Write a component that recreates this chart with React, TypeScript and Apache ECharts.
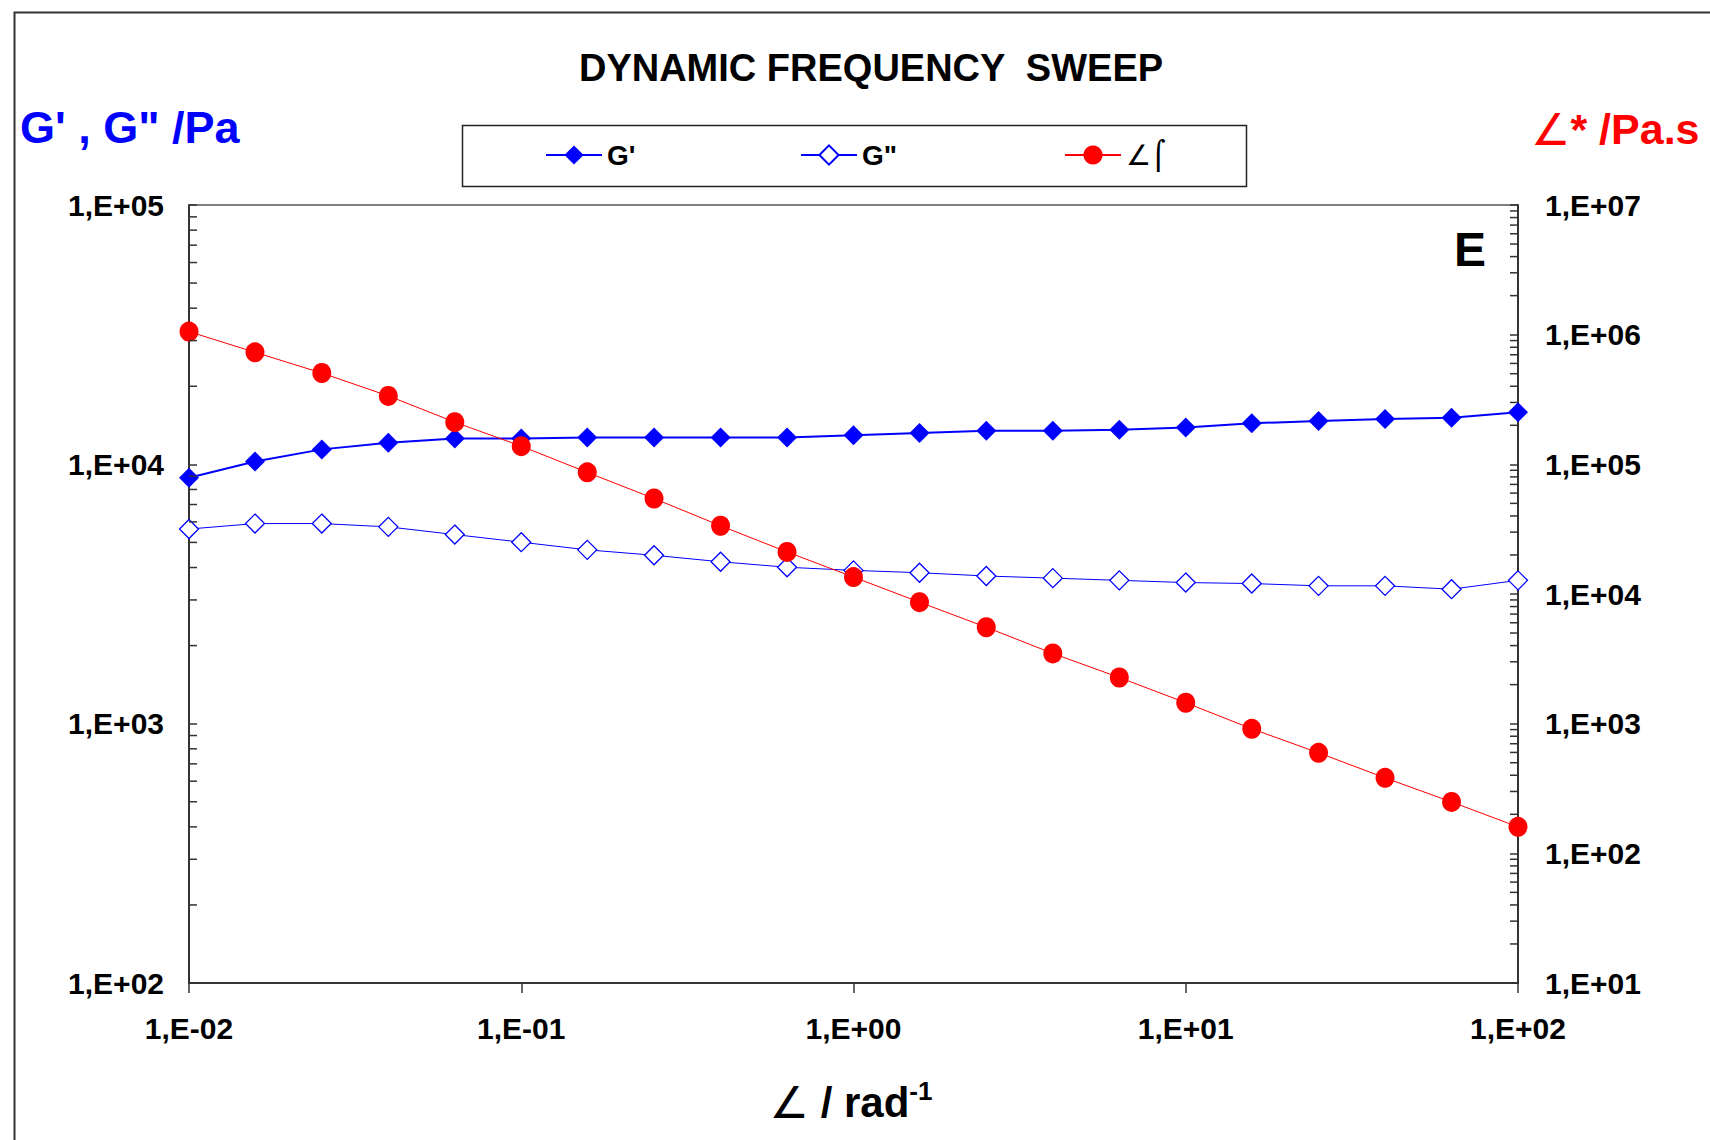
import React, { useEffect, useRef } from 'react';
import * as echarts from 'echarts';

const FONT = '"Liberation Sans", Arial, sans-serif';
const SYM = '"DejaVu Sans", sans-serif';

// Angular frequency (rad/s)
const xValues = [0.01, 0.0158, 0.0251, 0.0398, 0.0631, 0.1, 0.158, 0.251, 0.398, 0.631, 1, 1.58, 2.51, 3.98, 6.31, 10, 15.8, 25.1, 39.8, 63.1, 100];
// G' (Pa)
const gPrime = [8870, 10260, 11420, 12100, 12580, 12580, 12700, 12700, 12700, 12700, 12950, 13200, 13460, 13460, 13590, 13860, 14400, 14690, 14970, 15110, 15870];
// G'' (Pa)
const gDouble = [5630, 5910, 5910, 5740, 5360, 5010, 4680, 4460, 4210, 4010, 3900, 3820, 3710, 3640, 3570, 3500, 3470, 3400, 3400, 3300, 3570];
// eta* (Pa.s)
const etaStar = [1056000, 731000, 506000, 337000, 211500, 138100, 86700, 54500, 33600, 21100, 13500, 8650, 5540, 3480, 2270, 1450, 913, 596, 382, 249, 160];

const xTickValues = [0.01, 0.1, 1, 10, 100];
const xTickLabels = ['1,E-02', '1,E-01', '1,E+00', '1,E+01', '1,E+02'];
const leftTickValues = [100, 1000, 10000, 100000];
const leftTickLabels = ['1,E+02', '1,E+03', '1,E+04', '1,E+05'];
const rightTickValues = [10, 100, 1000, 10000, 100000, 1000000, 10000000];
const rightTickLabels = ['1,E+01', '1,E+02', '1,E+03', '1,E+04', '1,E+05', '1,E+06', '1,E+07'];

const leftMinorTicks = [200, 300, 400, 500, 600, 700, 800, 900, 2000, 3000, 4000, 5000, 6000, 7000, 8000, 9000, 20000, 30000, 40000, 50000, 60000, 70000, 80000, 90000];
const rightMinorTicks = [20, 30, 40, 50, 60, 70, 80, 90, 200, 300, 400, 500, 600, 700, 800, 900, 2000, 3000, 4000, 5000, 6000, 7000, 8000, 9000, 20000, 30000, 40000, 50000, 60000, 70000, 80000, 90000, 200000, 300000, 400000, 500000, 600000, 700000, 800000, 900000, 2000000, 3000000, 4000000, 5000000, 6000000, 7000000, 8000000, 9000000];

const X_MIN = 0.01;
const X_MAX = 100;

const seriesNames = ["G'", 'G"', '∠⌠'];

function lookup(values: number[], labels: string[]) {
  return (v: number) => {
    const i = values.findIndex((t) => Math.abs(Math.log10(t) - Math.log10(v)) < 1e-6);
    return i >= 0 ? labels[i] : '';
  };
}

const tickLabelStyle = { fontSize: 30, fontWeight: 'bold', color: '#000', fontFamily: FONT };

export default function App() {
  const ref = useRef<HTMLDivElement>(null);
  useEffect(() => {
    const chart = echarts.init(ref.current!, null, { renderer: 'svg' });
    const option: any = {
      animation: false,
      backgroundColor: '#fff',
      grid: { left: 189, right: 192, top: 205, bottom: 157, show: true, borderColor: '#000', borderWidth: 1, backgroundColor: 'transparent' },
      xAxis: {
        type: 'log', logBase: 10, min: X_MIN, max: X_MAX, splitNumber: 4,
        axisLine: { show: true, lineStyle: { color: '#333', width: 2 } },
        axisTick: { show: true, inside: false, length: 10, lineStyle: { color: '#333', width: 1.5 } },
        splitLine: { show: false },
        minorTick: { show: false },
        axisLabel: { ...tickLabelStyle, margin: 30, formatter: lookup(xTickValues, xTickLabels) },
      },
      yAxis: [
        {
          type: 'log', logBase: 10, min: 100, max: 100000, splitNumber: 3, position: 'left',
          axisLine: { show: true, lineStyle: { color: '#333', width: 2 } },
          axisTick: { show: true, inside: true, length: 8, lineStyle: { color: '#333', width: 1.5 } },
          splitLine: { show: false },
          axisLabel: { ...tickLabelStyle, margin: 25, formatter: lookup(leftTickValues, leftTickLabels) },
        },
        {
          type: 'log', logBase: 10, min: 10, max: 10000000, splitNumber: 6, position: 'right',
          axisLine: { show: true, lineStyle: { color: '#333', width: 2 } },
          axisTick: { show: true, inside: true, length: 8, lineStyle: { color: '#333', width: 1.5 } },
          splitLine: { show: false },
          axisLabel: { ...tickLabelStyle, margin: 27, formatter: lookup(rightTickValues, rightTickLabels) },
        },
      ],
      legend: [
        { data: [seriesNames[0]], left: 545, top: 141, padding: 0, itemWidth: 56, itemHeight: 24, selectedMode: false, textStyle: { fontSize: 28, fontWeight: 'bold', color: '#000', fontFamily: FONT } },
        { data: [seriesNames[1]], left: 800, top: 141, padding: 0, itemWidth: 56, itemHeight: 24, selectedMode: false, textStyle: { fontSize: 28, fontWeight: 'bold', color: '#000', fontFamily: FONT } },
        { data: [seriesNames[2]], left: 1064, top: 141, padding: 0, itemWidth: 56, itemHeight: 24, selectedMode: false, textStyle: { fontSize: 28, fontWeight: 'normal', color: '#000', fontFamily: SYM } },
      ],
      graphic: [
        { type: 'rect', left: 12, top: 10, shape: { width: 1800, height: 1200 }, style: { fill: 'none', stroke: '#333', lineWidth: 2 }, z: -10, silent: true },
        { type: 'rect', left: 460, top: 123, shape: { width: 784, height: 61 }, style: { fill: 'none', stroke: '#222', lineWidth: 1.5 }, silent: true },
        { type: 'text', x: 871, y: 68, style: { text: 'DYNAMIC FREQUENCY  SWEEP', font: `bold 38px ${FONT}`, fill: '#000', align: 'center', verticalAlign: 'middle' } },
        { type: 'text', x: 20, y: 127, style: { text: 'G\' , G" /Pa', font: `bold 45px ${FONT}`, fill: '#0000ff', align: 'left', verticalAlign: 'middle' } },
        {
          type: 'text', x: 1531, y: 129,
          style: {
            text: '{s|∠}{a|* /Pa.s}', align: 'left', verticalAlign: 'middle',
            rich: {
              s: { fontSize: 44, fontWeight: 'normal', fontFamily: SYM, fill: '#ff0000', lineHeight: 50 },
              a: { fontSize: 43, fontWeight: 'bold', fontFamily: FONT, fill: '#ff0000', lineHeight: 50 },
            },
          },
        },
        { type: 'text', x: 1470, y: 249, style: { text: 'E', font: `bold 48px ${FONT}`, fill: '#000', align: 'center', verticalAlign: 'middle' } },
        {
          type: 'text', x: 851, y: 1102,
          style: {
            text: '{s|∠}{a| / rad}{b|-1}', align: 'center', verticalAlign: 'middle',
            rich: {
              s: { fontSize: 44, fontWeight: 'normal', fontFamily: SYM, fill: '#000', lineHeight: 48 },
              a: { fontSize: 42, fontWeight: 'bold', fontFamily: FONT, fill: '#000', lineHeight: 48 },
              b: { fontSize: 26, fontWeight: 'bold', fontFamily: FONT, fill: '#000', verticalAlign: 'top', lineHeight: 26 },
            },
          },
        },
      ],
      series: [
        {
          name: seriesNames[0], type: 'line', yAxisIndex: 0,
          data: xValues.map((x, i) => [x, gPrime[i]]),
          symbol: 'diamond', symbolSize: 20,
          itemStyle: { color: '#0000ff' },
          lineStyle: { color: '#0000ff', width: 2 },
          z: 3,
        },
        {
          name: seriesNames[1], type: 'line', yAxisIndex: 0,
          data: xValues.map((x, i) => [x, gDouble[i]]),
          symbol: 'diamond', symbolSize: 19,
          itemStyle: { color: '#ffffff', borderColor: '#0000ff', borderWidth: 1.3 },
          lineStyle: { color: '#0000ff', width: 1 },
          z: 3,
        },
        {
          name: seriesNames[2], type: 'line', yAxisIndex: 1,
          data: xValues.map((x, i) => [x, etaStar[i]]),
          symbol: 'circle', symbolSize: [19, 20],
          itemStyle: { color: '#ff0000' },
          lineStyle: { color: '#ff0000', width: 1 },
          z: 4,
        },
        {
          type: 'custom', yAxisIndex: 0, silent: true, clip: false, z: 6,
          data: leftMinorTicks.map((v) => [X_MIN, v]),
          renderItem: (params: any, api: any) => {
            const p = api.coord([api.value(0), api.value(1)]);
            return { type: 'line', shape: { x1: p[0], y1: p[1], x2: p[0] + 8, y2: p[1] }, style: { stroke: '#333', lineWidth: 1.5 } };
          },
        },
        {
          type: 'custom', yAxisIndex: 1, silent: true, clip: false, z: 6,
          data: rightMinorTicks.map((v) => [X_MAX, v]),
          renderItem: (params: any, api: any) => {
            const p = api.coord([api.value(0), api.value(1)]);
            return { type: 'line', shape: { x1: p[0], y1: p[1], x2: p[0] - 8, y2: p[1] }, style: { stroke: '#333', lineWidth: 1.5 } };
          },
        },
      ],
    };
    chart.setOption(option);
    return () => chart.dispose();
  }, []);
  return <div ref={ref} style={{ position: 'absolute', left: 0, top: 0, width: 1710, height: 1140, background: '#fff' }} />;
}
